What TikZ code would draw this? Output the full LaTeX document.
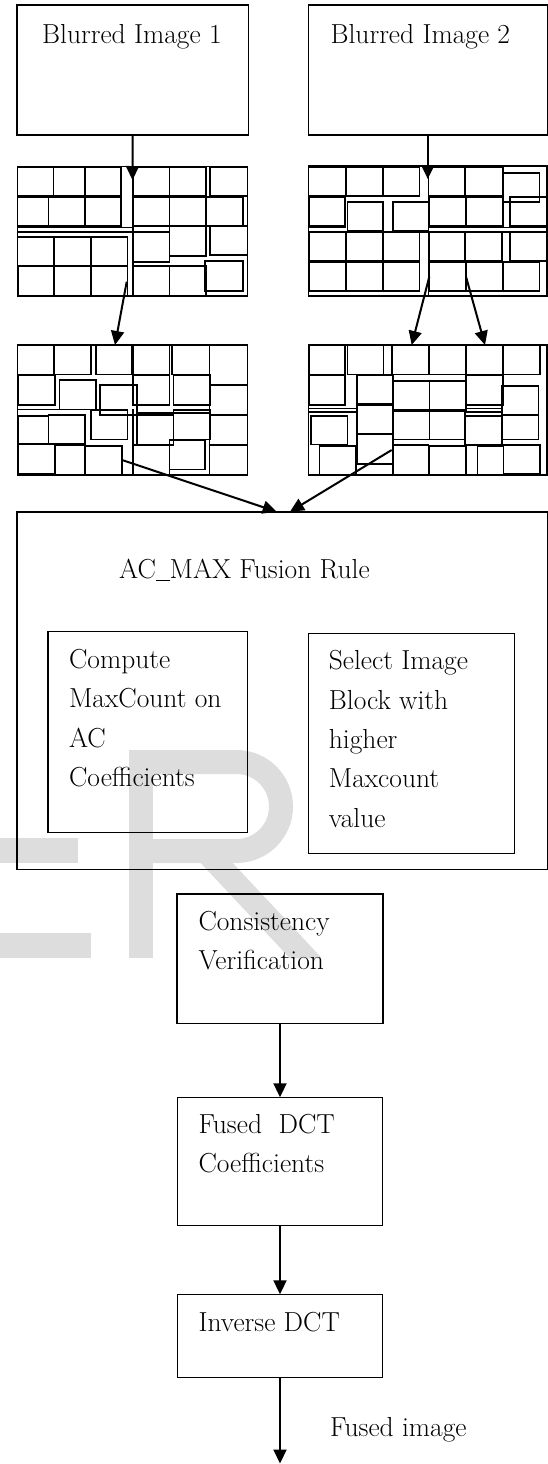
\documentclass[tikz,border=0pt]{standalone}
\usepackage{fontspec}
\usetikzlibrary{arrows.meta}
\definecolor{wmgray}{RGB}{221,221,221}
\tikzset{
  box/.style={draw, line width=1.4pt, inner sep=0pt, outer sep=0pt},
  gridframe/.style={draw, line width=1.6pt, inner sep=0pt, outer sep=0pt},
  cell/.style={line width=1.6pt},
  arr/.style={line width=2pt, -{Triangle[length=14pt,width=13pt]}},
  % multi-line labels are placed by the baseline of their last line
  lbl/.style={anchor=base west, inner sep=0pt, align=left,
              font=\fontsize{27.5}{39.3}\selectfont},
}
\begin{document}
\begin{tikzpicture}[x=1pt, y=-1pt]
\useasboundingbox (0,0) rectangle (548,1464);

% ---- background watermark letters ----
\fill[wmgray] (0,838.3) rectangle (78.3,863.3);
\fill[wmgray] (0,933.3) rectangle (90.7,958.3);
\fill[wmgray] (129.3,750) rectangle (153,958.3);
\draw[wmgray, line width=24pt] (141,762) -- (236.5,762)
   arc[start angle=-90, end angle=90, radius=44.5] -- (141,851);
\fill[wmgray] (196,858) -- (228,858) -- (322,958.3) -- (290,958.3) -- cycle;

% ---- input images ----
\node[box, minimum width=231.5pt, minimum height=130pt] (b1) at (132.55,70) {};
\node[box, minimum width=238.8pt, minimum height=130pt] (b2) at (427.8,70) {};
\node[lbl] (b1t) at (42,43.3) {Blurred Image 1};
\node[lbl] (b2t) at (330.4,43.3) {Blurred Image 2};

% ---- block grids ----
\node[gridframe, minimum width=230pt, minimum height=129.5pt] (g1) at (132.3,231.25) {};
\node[gridframe, minimum width=238.4pt, minimum height=130pt] (g2) at (427.5,231) {};
\node[gridframe, minimum width=230pt, minimum height=130pt] (g3) at (132.3,410) {};
\node[gridframe, minimum width=238.4pt, minimum height=130pt] (g4) at (427.5,410) {};

% grid 1 blocks
\foreach \a/\b/\c/\d in {
  17.3/166.7/53.3/195.7, 53.3/166.7/85/195.7, 85/166.7/120.7/195.7,
  132.7/166.7/169.3/195.7, 169.3/166.7/206/195.7, 210/166.7/247.3/195.7,
  17.3/196.7/48.3/226, 48.3/196.7/85/226, 85/196.7/120.7/226,
  132.7/196.7/169.3/226, 169.3/196.7/206/226, 206/196.7/242.7/226,
  17.3/236.7/54/266, 54/236.7/90.7/266, 90.7/236.7/127.3/266,
  132.7/231.7/169.3/261.7, 169.3/226/206/256, 210/226/247.3/255,
  18.3/266/54/296, 54/266/90.7/296, 90.7/266/127.3/296,
  132.7/266/169.3/296, 169.3/266/206/296, 205/261/242.7/291}
  \draw[cell] (\a,\b) rectangle (\c,\d);
\draw[cell] (17.3,227.3) -- (132.7,227.3);
\draw[cell] (17.3,231.7) -- (132.7,231.7);
\draw[cell] (132.7,166.7) -- (132.7,296);

% grid 2 blocks
\foreach \a/\b/\c/\d in {
  308.3/166.7/346/195.7, 346/166.7/382.7/195.7, 382.7/166.7/419.3/195.7,
  428.3/166.7/465/195.7, 465/166.7/502.7/195.7, 502.7/172.7/539.3/201.7,
  309.3/196.7/345/226, 347.3/201.7/382.7/231, 392.7/201.7/428.3/231,
  429.3/196.7/466/226, 466/196.7/502.7/226, 510/196.7/546.7/226,
  309.3/231.7/346/261, 346/231.7/382.7/261, 382.7/231.7/419.3/261,
  429.3/231.7/465/261, 465/231.7/501.7/261, 510/231.7/546.7/261,
  309.3/261.7/346/291, 346/261.7/382.7/291, 383.3/261.7/419.3/291,
  429.3/261.7/466/291, 466/261.7/502.7/291, 502.7/261.7/539.3/291}
  \draw[cell] (\a,\b) rectangle (\c,\d);
\draw[cell] (308.3,227.3) -- (346,227.3);
\draw[cell] (428.3,227.3) -- (546.7,227.3);
\draw[cell] (308.3,231.7) -- (546.7,231.7);
\draw[cell] (428.3,166) -- (428.3,296);

% grid 3 blocks
\foreach \a/\b/\c/\d in {
  17.3/345/53.3/374.3, 54/345/90.7/374.3, 96/345/131.7/374.3,
  132.7/345/169.3/374.3, 171.7/345/209.3/374.3, 209.3/345/247.3/385,
  18.3/375/55/405, 59.3/380/96/409.3, 132.7/375/169.3/405,
  100/385/136.7/415, 173.3/375/210/405, 209.3/385/247.3/415,
  18.3/416/48.3/444, 48.3/415/85/444, 90.7/410/127.3/439.3,
  136.7/415/173.3/445, 173.3/410/210/439.3, 209.3/415/247.3/445,
  18.3/444/55/473.3, 55/445/85/475, 85/445.7/121.7/475,
  132.7/445/169.3/475, 169.3/440/205/469.3, 209.3/445/247.3/475}
  \draw[cell] (\a,\b) rectangle (\c,\d);
\draw[cell] (17.3,409.3) -- (100,409.3);
\draw[cell] (136.7,412.7) -- (209.3,412.7);
\draw[cell] (132.7,409.3) -- (132.7,475);

% grid 4 blocks
\foreach \a/\b/\c/\d in {
  309.3/345/345/374.3, 347.3/345/383.3/374.3, 391.7/345/428.3/374.3,
  429.3/345/466/374.3, 466/345/502.7/374.3, 503.3/345/540/374.3,
  309.3/375/345/405, 356.7/375/392.7/404, 393.3/381/429.3/410,
  429.3/381/466/410, 466/375/502.7/405, 501.7/386/538.3/415,
  310.7/415.7/347.3/444.3, 356.7/405/392.7/433.3, 393.3/410.7/429.3/439.3,
  429.3/410.7/465/439.3, 465/416/501.7/445, 501.7/415/538.3/439.3,
  319.3/446/356/475, 356.7/434.3/392.7/464, 392.7/445/428.3/475,
  429.3/446/466/475, 477.3/446/503.3/475, 503.3/445/540/474}
  \draw[cell] (\a,\b) rectangle (\c,\d);
\draw[cell] (308.3,408.3) -- (356.7,408.3);
\draw[cell] (308.3,411.7) -- (356.7,411.7);
\draw[cell] (466,408.3) -- (501.7,408.3);
\draw[cell] (466,411.7) -- (501.7,411.7);

% ---- fusion rule ----
\node[box, minimum width=530.4pt, minimum height=357.5pt] (fuse) at (282,690.75) {};
\node[lbl] (fuset) at (119,578.3) {AC\rule[-3pt]{0.5em}{1.2pt}MAX Fusion Rule};
\node[box, minimum width=199.5pt, minimum height=201pt] (comp) at (147.75,732.2) {};
\node[lbl] (compt) at (68.9,786.5) {Compute\\MaxCount on\\AC\\Coefficients};
\node[box, minimum width=206.3pt, minimum height=220pt] (sel) at (411.55,743.3) {};
\node[lbl] (selt) at (328.7,827) {Select Image\\Block with\\higher\\Maxcount\\value};

% ---- later stages ----
\node[box, minimum width=206.3pt, minimum height=129.3pt] (cons) at (280,958.65) {};
\node[lbl] (const) at (198.3,969.3) {Consistency\\Verification};
\node[box, minimum width=205.4pt, minimum height=128.4pt] (fdct) at (280,1161.5) {};
\node[lbl] (fdctt) at (198.3,1172.6) {Fused\ \ DCT\\Coefficients};
\node[box, minimum width=205.4pt, minimum height=83pt] (idct) at (280,1335.8) {};
\node[lbl] (idctt) at (198.3,1331.7) {Inverse DCT};
\node[lbl] (outt) at (330,1436.7) {Fused image};

% ---- connector ends ----
\coordinate (t1) at (132.5,180);
\coordinate (t2) at (427.8,179);
\coordinate (s13) at (126.7,281.7);
\coordinate (t3) at (115,345);
\coordinate (s24a) at (429.3,276.7);
\coordinate (t4a) at (411.7,345);
\coordinate (s24b) at (466,276.7);
\coordinate (t4b) at (485,345);
\coordinate (s3) at (122,460);
\coordinate (tf1) at (276.7,511.7);
\coordinate (s4) at (391.7,450);
\coordinate (tf2) at (290,511.7);
\coordinate (out) at (280,1463.5);

% ---- connectors ----
\draw[arr] (b1) -- (t1);
\draw[arr] (b2) -- (t2);
\draw[arr] (s13) -- (t3);
\draw[arr] (s24a) -- (t4a);
\draw[arr] (s24b) -- (t4b);
\draw[arr] (s3) -- (tf1);
\draw[arr] (s4) -- (tf2);
\draw[arr] (cons) -- (fdct);
\draw[arr] (fdct) -- (idct);
\draw[arr] (idct) -- (out);
\end{tikzpicture}
\end{document}
